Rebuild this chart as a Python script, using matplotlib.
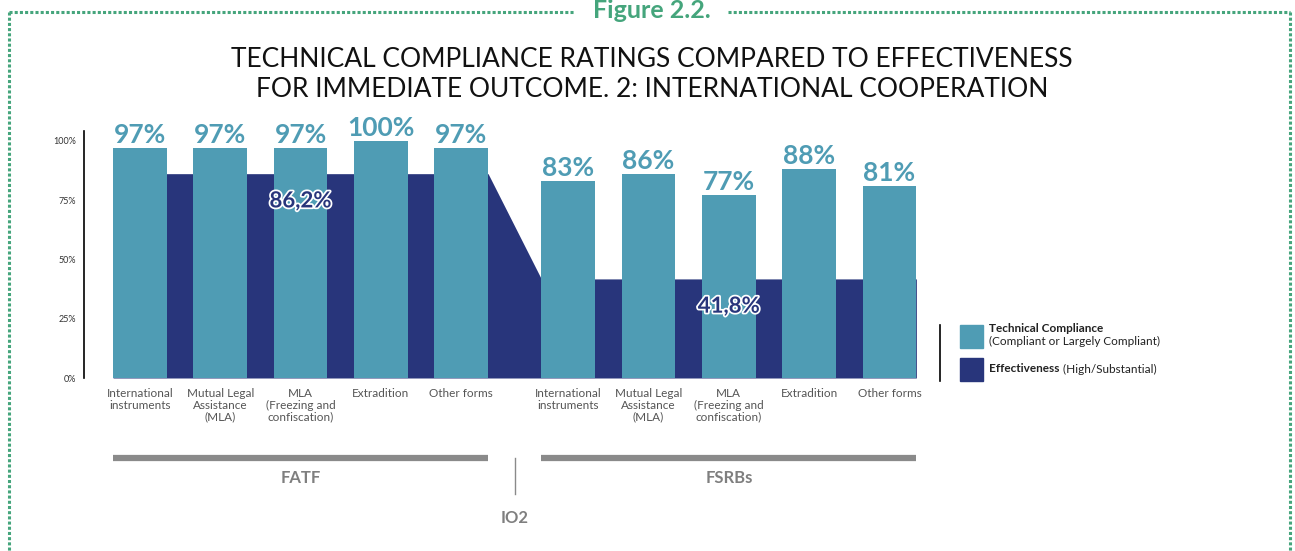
import matplotlib.pyplot as plt
from matplotlib.lines import Line2D
from matplotlib.patches import Rectangle
import matplotlib.patheffects as pe

# data
categories = ["International\ninstruments", "Mutual Legal\nAssistance\n(MLA)",
              "MLA\n(Freezing and\nconfiscation)", "Extradition", "Other forms"]
groups = ["FATF", "FSRBs"]
tech_fatf = [97, 97, 97, 100, 97]
tech_fsrb = [83, 86, 77, 88, 81]
eff_fatf = 86.2
eff_fsrb = 41.8
eff_labels = ["86,2%", "41,8%"]
yticks = [0, 25, 50, 75, 100]

TEAL = "#4f9cb4"
NAVY = "#28357b"
GRAY = "#8a8a8a"
GREEN = "#45a57c"
FONT = ["Lato", "DejaVu Sans"]
plt.rcParams["font.family"] = FONT

W, H = 1295, 551
fig = plt.figure(figsize=(W / 100, H / 100), dpi=100)


def fx(px):
    return px / W


def fy(py):
    return 1 - py / H


ax = fig.add_axes([fx(84), fy(378), fx(930) - fx(84), fy(131) - fy(378)])

gap = 1.333
pos_fatf = [i for i in range(len(categories))]
pos_fsrb = [i + len(categories) - 1 + gap for i in range(len(categories))]
width = 0.67

# effectiveness area behind bars
ex = [pos_fatf[0] - width / 2, pos_fatf[-1] + width / 2,
      pos_fsrb[0] - width / 2, pos_fsrb[-1] + width / 2]
ey = [eff_fatf, eff_fatf, eff_fsrb, eff_fsrb]
ax.fill_between(ex, 0, ey, color=NAVY, lw=0, zorder=1)

for pos, vals in ((pos_fatf, tech_fatf), (pos_fsrb, tech_fsrb)):
    ax.bar(pos, vals, width=width, color=TEAL, zorder=2)
    for p, v in zip(pos, vals):
        ax.annotate(f"{v}%", (p, v), xytext=(0, 1), textcoords="offset points",
                    ha="center", va="bottom", fontsize=19, fontweight="bold",
                    color=TEAL, zorder=4)

for pos, e, lab in ((pos_fatf, eff_fatf, eff_labels[0]),
                    (pos_fsrb, eff_fsrb, eff_labels[1])):
    ax.text(pos[2], e - 11.5, lab, ha="center", va="center", fontsize=16,
            fontweight="bold", color=NAVY, zorder=5,
            path_effects=[pe.withStroke(linewidth=2.5, foreground="white")])

ax.set_xlim(-0.697, 9.838)
ax.set_ylim(0, 104.2)
ax.set_yticks(yticks)
ax.set_yticklabels([f"{t}%" for t in yticks], fontsize=6.5, color="#333333")
ax.tick_params(axis="y", length=0, pad=6)
ax.set_xticks(pos_fatf + pos_fsrb)
ax.set_xticklabels(categories * 2, fontsize=8.5, color="#555555", linespacing=1.1)
ax.tick_params(axis="x", length=0, pad=7)
for s in ("top", "right", "bottom"):
    ax.spines[s].set_visible(False)
ax.spines["left"].set_linewidth(1.2)

# group brackets under the axis
ybar = -33.8
for pos, name in ((pos_fatf, groups[0]), (pos_fsrb, groups[1])):
    ax.plot([pos[0] - width / 2, pos[-1] + width / 2], [ybar, ybar], color=GRAY,
            lw=4.5, solid_capstyle="butt", clip_on=False)
    ax.text((pos[0] + pos[-1]) / 2, -42.2, name, ha="center", va="center",
            fontsize=12, fontweight="bold", color="#7f7f7f")
mid = (pos_fatf[-1] + pos_fsrb[0]) / 2
ax.plot([mid, mid], [ybar, -49], color=GRAY, lw=1, clip_on=False)
ax.text(mid, -59.1, "IO2", ha="center", va="center", fontsize=12,
        fontweight="bold", color="#7f7f7f")

# title
fig.text(fx(652), fy(75), "TECHNICAL COMPLIANCE RATINGS COMPARED TO EFFECTIVENESS\n"
         "FOR IMMEDIATE OUTCOME. 2: INTERNATIONAL COOPERATION",
         ha="center", va="center", fontsize=19, color="#111111", linespacing=1.25)
fig.text(fx(652), fy(11), "Figure 2.2.", ha="center", va="center", fontsize=18,
         fontweight="bold", color=GREEN)

# legend
fig.add_artist(Line2D([fx(940), fx(940)], [fy(325), fy(381)], color="black", lw=1.2))
fig.add_artist(Rectangle((fx(960), fy(348)), fx(23), fy(325) - fy(348), color=TEAL))
fig.add_artist(Rectangle((fx(960), fy(381)), fx(23), fy(358) - fy(381), color=NAVY))
fig.text(fx(989), fy(329), "Technical Compliance", fontsize=8.5, fontweight="bold",
         color="#222222", va="center")
fig.text(fx(989), fy(341), "(Compliant or Largely Compliant)", fontsize=8.5,
         color="#222222", va="center")
t = fig.text(fx(989), fy(369), "Effectiveness", fontsize=8.5, fontweight="bold",
             color="#222222", va="center")
fig.canvas.draw()
ax.annotate(" (High/Substantial)", xy=(1, 0.5), xycoords=t, fontsize=8.5,
            color="#222222", va="center", ha="left", annotation_clip=False)

# decorative frame
frame = dict(color=GREEN, lw=2.2, linestyle=(0, (1.0, 0.7)))
fig.add_artist(Line2D([fx(9), fx(575)], [fy(12), fy(12)], **frame))
fig.add_artist(Line2D([fx(728), fx(1290)], [fy(12), fy(12)], **frame))
fig.add_artist(Line2D([fx(9), fx(9)], [fy(12), fy(551)], **frame))
fig.add_artist(Line2D([fx(1290), fx(1290)], [fy(12), fy(551)], **frame))

fig.savefig("out.png", dpi=100)
